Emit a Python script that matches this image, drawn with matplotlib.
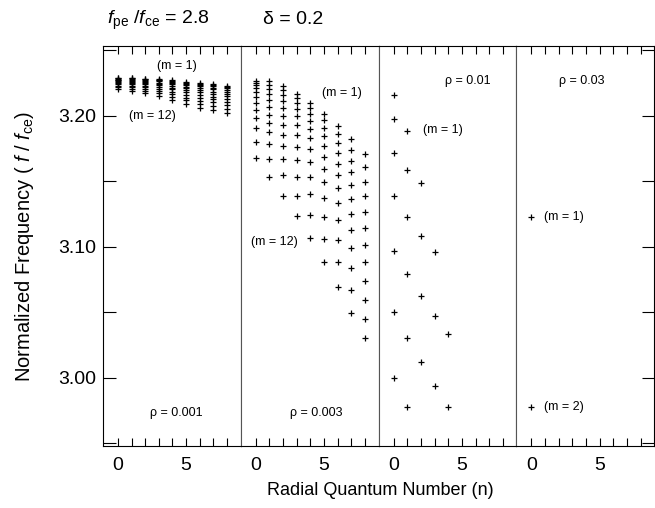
import matplotlib
matplotlib.use('Agg')
import matplotlib.pyplot as plt
from matplotlib.ticker import MultipleLocator, FixedLocator, NullFormatter
import numpy as np

plt.rcParams['font.family'] = ['Liberation Sans', 'DejaVu Sans']
plt.rcParams['mathtext.fontset'] = 'custom'
plt.rcParams['mathtext.rm'] = 'Liberation Sans'
plt.rcParams['mathtext.it'] = 'Liberation Sans:italic'

n_vals = np.arange(9)

# rho = 0.001 : 12 modes (m = 1..12) per radial number n
rho001 = [
    [3.2289, 3.2286, 3.2281, 3.2276, 3.2271, 3.2264, 3.2256, 3.2248, 3.2239, 3.2229, 3.2218, 3.2205],
    [3.2289, 3.2285, 3.2280, 3.2274, 3.2267, 3.2259, 3.2250, 3.2240, 3.2230, 3.2218, 3.2205, 3.2190],
    [3.2281, 3.2277, 3.2271, 3.2265, 3.2258, 3.2249, 3.2240, 3.2229, 3.2217, 3.2205, 3.2191, 3.2175],
    [3.2281, 3.2276, 3.2269, 3.2262, 3.2253, 3.2242, 3.2231, 3.2218, 3.2204, 3.2188, 3.2171, 3.2152],
    [3.2274, 3.2268, 3.2260, 3.2251, 3.2241, 3.2228, 3.2215, 3.2200, 3.2183, 3.2165, 3.2145, 3.2122],
    [3.2259, 3.2252, 3.2244, 3.2234, 3.2222, 3.2209, 3.2193, 3.2177, 3.2158, 3.2138, 3.2116, 3.2091],
    [3.2251, 3.2243, 3.2234, 3.2223, 3.2209, 3.2194, 3.2177, 3.2158, 3.2137, 3.2114, 3.2089, 3.2061],
    [3.2243, 3.2235, 3.2225, 3.2213, 3.2200, 3.2184, 3.2166, 3.2146, 3.2125, 3.2101, 3.2076, 3.2046],
    [3.2228, 3.2220, 3.2210, 3.2197, 3.2183, 3.2167, 3.2148, 3.2128, 3.2105, 3.2080, 3.2054, 3.2023],
]

# rho = 0.003
rho003 = [
    [3.2266, 3.2251, 3.2236, 3.2213, 3.2183, 3.2145, 3.2099, 3.2046, 3.1985, 3.1909, 3.1802, 3.1681],
    [3.2266, 3.2236, 3.2205, 3.2167, 3.2122, 3.2068, 3.2008, 3.1947, 3.1878, 3.1787, 3.1673, 3.1529],
    [3.2228, 3.2198, 3.2160, 3.2114, 3.2061, 3.2000, 3.1932, 3.1856, 3.1772, 3.1673, 3.1544, 3.1384],
    [3.2167, 3.2137, 3.2099, 3.2053, 3.2000, 3.1932, 3.1856, 3.1764, 3.1665, 3.1529, 3.1384, 3.1232],
    [3.2099, 3.2061, 3.2015, 3.1962, 3.1901, 3.1833, 3.1749, 3.1650, 3.1536, 3.1399, 3.1240, 3.1065],
    [3.2015, 3.1970, 3.1909, 3.1848, 3.1772, 3.1688, 3.1597, 3.1491, 3.1369, 3.1224, 3.1057, 3.0882],
    [3.1924, 3.1863, 3.1795, 3.1719, 3.1635, 3.1544, 3.1445, 3.1331, 3.1202, 3.1049, 3.0882, 3.0692],
    [3.1825, 3.1741, 3.1658, 3.1567, 3.1468, 3.1361, 3.1247, 3.1125, 3.0989, 3.0837, 3.0669, 3.0494],
    [3.1711, 3.1605, 3.1498, 3.1384, 3.1262, 3.1141, 3.1011, 3.0882, 3.0738, 3.0593, 3.0449, 3.0304],
]

# rho = 0.01 : fewer bound modes
rho01 = [
    [3.2157, 3.1975, 3.1713, 3.1384, 3.0968, 3.0504, 3.0002],
    [3.1886, 3.1589, 3.1227, 3.0789, 3.0302, 2.9777],
    [3.1485, 3.1082, 3.0626, 3.0119],
    [3.0960, 3.0471, 2.9939],
    [3.0332, 2.9777],
]

# rho = 0.03
rho03 = [
    [3.1225, 2.9780],
]

panels = [rho001, rho003, rho01, rho03]
rho_labels = ['ρ = 0.001', 'ρ = 0.003', 'ρ = 0.01', 'ρ = 0.03']

fig = plt.figure(figsize=(6.55, 5.08), dpi=100)
fig.subplots_adjust(left=0.157, right=0.999, bottom=0.122, top=0.909, wspace=0)
axs = fig.subplots(1, 4, sharey=True)

for i, ax in enumerate(axs):
    for n, col in enumerate(panels[i]):
        ax.plot([n] * len(col), col, '+', color='black', ms=5, mew=0.9)
    ax.set_xlim(-1.1, 9.0)
    ax.set_ylim(2.948, 3.253)
    ax.xaxis.set_major_locator(FixedLocator([0, 5]))
    ax.xaxis.set_minor_locator(FixedLocator([1, 2, 3, 4, 6, 7, 8]))
    ax.tick_params(axis='x', which='both', direction='in', top=True, length=6,
                   width=0.8, labelsize=14, pad=8)
    for s in ['left', 'right']:
        ax.spines[s].set_color('#555555')
        ax.spines[s].set_linewidth(0.8)
    if i == 0:
        ax.spines['left'].set_color('black')
        ax.yaxis.set_major_locator(MultipleLocator(0.1))
        ax.yaxis.set_minor_locator(MultipleLocator(0.05))
        ax.yaxis.set_major_formatter(matplotlib.ticker.FormatStrFormatter('%.2f'))
        ax.tick_params(axis='y', which='both', direction='in', length=9, width=0.8,
                       labelsize=14, pad=5, right=False)
    else:
        ax.tick_params(axis='y', which='both', left=False, right=False)
    if i == 3:
        ax.spines['right'].set_color('black')
        ax.tick_params(axis='y', which='both', right=True, direction='in', length=9,
                       width=0.8)

axs[0].set_ylabel('Normalized Frequency ( $f$ / $f_{\\rm ce}$)', fontsize=14.5, labelpad=16)

# annotations
axs[0].text(4.3, 3.238, '(m = 1)', fontsize=9, ha='center', va='center')
axs[0].text(2.5, 3.200, '(m = 12)', fontsize=9, ha='center', va='center')
axs[1].text(6.3, 3.2175, '(m = 1)', fontsize=9, ha='center', va='center')
axs[1].text(1.4, 3.1035, '(m = 12)', fontsize=9, ha='center', va='center')
axs[2].text(3.6, 3.189, '(m = 1)', fontsize=9, ha='center', va='center')
axs[3].text(0.9, 3.1225, '(m = 1)', fontsize=9, ha='left', va='center')
axs[3].text(0.9, 2.978, '(m = 2)', fontsize=9, ha='left', va='center')

rho_pos = [(4.3, 2.973), (4.4, 2.973), (5.4, 3.2266), (3.7, 3.2266)]
for ax, lab, (x, y) in zip(axs, rho_labels, rho_pos):
    ax.text(x, y, lab, fontsize=9, ha='center', va='center')

fig.text(0.58, 0.035, 'Radial Quantum Number (n)', fontsize=13, ha='center', va='center')
fig.text(107 / 655, 1 - 20 / 508, '$f_{\\rm pe}$ /$f_{\\rm ce}$ = 2.8', fontsize=14,
         ha='left', va='center')
fig.text(263 / 655, 1 - 20 / 508, 'δ = 0.2', fontsize=14, ha='left', va='center')

fig.savefig('out.png', dpi=100)
